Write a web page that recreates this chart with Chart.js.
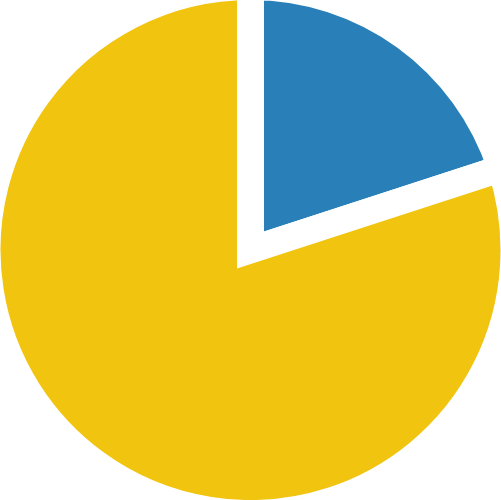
<!DOCTYPE html>
<html>
<head>
<meta charset="utf-8">
<script src="https://cdn.jsdelivr.net/npm/chart.js@4"></script>
<style>
    html, body { margin: 0; padding: 0; background: #fff; }
    #wrap { width: 501px; height: 500px; position: relative; }
</style>
</head>
<body>
<div id="wrap"><canvas id="pie_chart"></canvas></div>
<script>
var labels = ['A', 'B'];
var values = [20, 80];
var colors = ['#2980b9', '#f1c40f'];

var pie_chart = document.getElementById('pie_chart');
var My_pie_chart = new Chart(pie_chart, {
    type: 'pie',
    data: {
        labels: labels,
        datasets: [{
            data: values,
            backgroundColor: colors,
            borderColor: '#ffffff',
            borderWidth: 27,
            borderJoinStyle: 'miter'
        }]
    },
    options: {
        responsive: true,
        maintainAspectRatio: false,
        animation: false,
        radius: 263.5,
        layout: { padding: 0 },
        plugins: {
            legend: { display: false },
            tooltip: { enabled: false }
        }
    }
});
</script>
</body>
</html>
